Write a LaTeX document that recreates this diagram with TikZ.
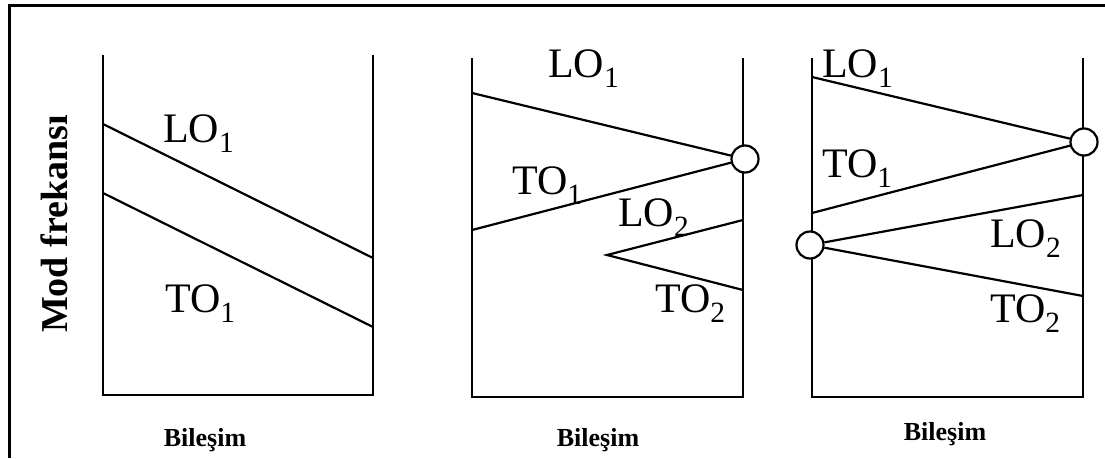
\documentclass[tikz,border=0pt]{standalone}
\usepackage{fontspec}
\setmainfont{Liberation Serif}
\begin{document}
\begin{tikzpicture}[x=1pt,y=-1pt,
  frame/.style={line width=3pt},
  axis/.style={line width=2.4pt},
  band/.style={line width=2.2pt},
  lab/.style={anchor=base west, inner sep=0pt, font=\fontsize{42}{42}\selectfont},
  xlab/.style={anchor=base, inner sep=0pt, font=\bfseries\fontsize{26}{26}\selectfont},
  ylab/.style={anchor=base, inner sep=0pt, rotate=90, font=\bfseries\fontsize{38}{38}\selectfont},
  cross/.style={circle, draw, fill=white, minimum size=27pt, inner sep=0pt, line width=2.2pt}]
\useasboundingbox (0,0) rectangle (1105,458);
% outer frame (top and left only)
\coordinate (fbl) at (9,458);
\coordinate (ftl) at (9,5);
\coordinate (ftr) at (1105,5);
\draw[frame] (fbl) -- (ftl) -- (ftr);

% y label
\node[ylab] (ylabel) at (67,224) {Mod frekansı};

% ---------- panel 1 ----------
\coordinate (a1tl) at (103,55);
\coordinate (a1bl) at (103,395);
\coordinate (a1br) at (373,395);
\coordinate (a1tr) at (373,55);
\draw[axis] (a1tl) -- (a1bl) -- (a1br) -- (a1tr);
\coordinate (p1lo1a) at (103,124);
\coordinate (p1lo1b) at (373,258);
\coordinate (p1to1a) at (103,193);
\coordinate (p1to1b) at (373,327);
\draw[band] (p1lo1a) -- (p1lo1b);
\draw[band] (p1to1a) -- (p1to1b);
\node[lab] (p1LO1) at (163,142) {LO\textsubscript{1}};
\node[lab] (p1TO1) at (165,312) {TO\textsubscript{1}};
\node[xlab] (x1) at (205,446) {Bileşim};

% ---------- panel 2 ----------
\coordinate (a2tl) at (472,58);
\coordinate (a2bl) at (472,397);
\coordinate (a2br) at (743,397);
\coordinate (a2tr) at (743,58);
\draw[axis] (a2tl) -- (a2bl) -- (a2br) -- (a2tr);
\coordinate (p2lo1a) at (472,93);
\coordinate (p2to1a) at (472,230);
\coordinate (p2lo2a) at (743,220);
\coordinate (p2tip) at (607,255);
\coordinate (p2to2b) at (743,290);
\node[cross] (c2) at (745,159) {};
\draw[band] (p2lo1a) -- (c2);
\draw[band] (p2to1a) -- (c2);
\draw[band] (p2lo2a) -- (p2tip) -- (p2to2b);
\node[lab] (p2LO1) at (548,77) {LO\textsubscript{1}};
\node[lab] (p2TO1) at (512,194) {TO\textsubscript{1}};
\node[lab] (p2LO2) at (618,226) {LO\textsubscript{2}};
\node[lab] (p2TO2) at (655,312) {TO\textsubscript{2}};
\node[xlab] (x2) at (598,446) {Bileşim};

% ---------- panel 3 ----------
\coordinate (a3tl) at (812,58);
\coordinate (a3bl) at (812,397);
\coordinate (a3br) at (1083,397);
\coordinate (a3tr) at (1083,58);
\draw[axis] (a3tl) -- (a3bl) -- (a3br) -- (a3tr);
\coordinate (p3lo1a) at (812,77);
\coordinate (p3to1a) at (812,213);
\coordinate (p3lo2b) at (1083,195);
\coordinate (p3to2b) at (1083,296);
\node[cross] (c3r) at (1084,142) {};
\node[cross] (c3l) at (810,245) {};
\draw[band] (p3lo1a) -- (c3r);
\draw[band] (p3to1a) -- (c3r);
\draw[band] (c3l) -- (p3lo2b);
\draw[band] (c3l) -- (p3to2b);
\node[lab] (p3LO1) at (822,77) {LO\textsubscript{1}};
\node[lab] (p3TO1) at (822,177) {TO\textsubscript{1}};
\node[lab] (p3LO2) at (990,247) {LO\textsubscript{2}};
\node[lab] (p3TO2) at (990,322) {TO\textsubscript{2}};
\node[xlab] (x3) at (945,440) {Bileşim};
\end{tikzpicture}
\end{document}
